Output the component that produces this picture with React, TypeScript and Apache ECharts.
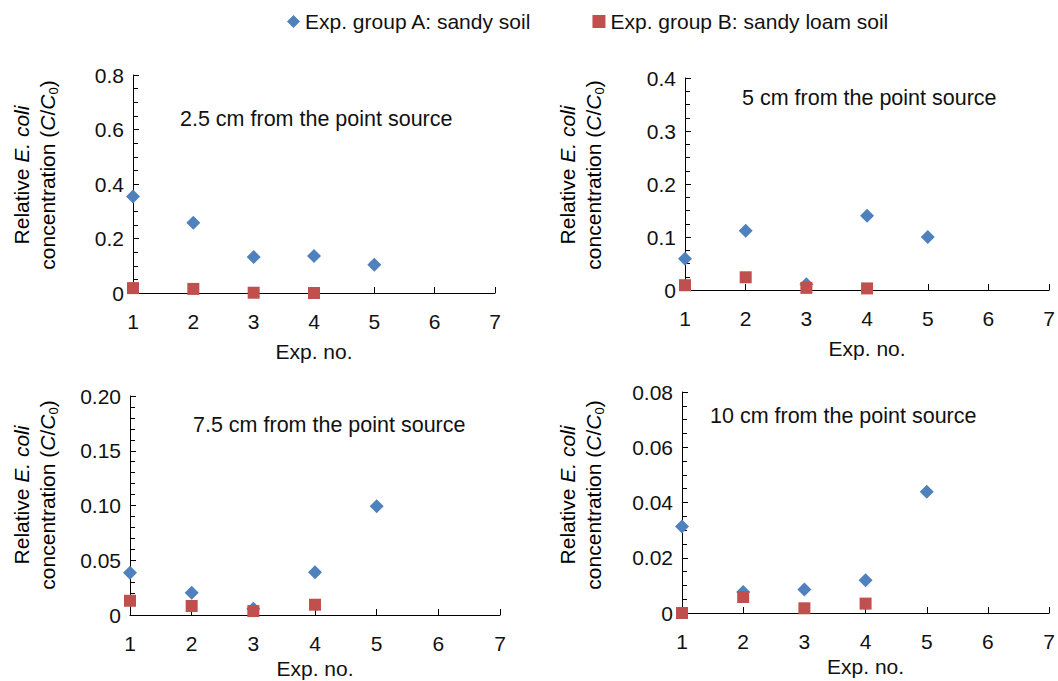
import React, { useEffect, useRef } from "react";
import * as echarts from "echarts";

const expNo = [1, 2, 3, 4, 5];
const seriesNames = ["Exp. group A: sandy soil", "Exp. group B: sandy loam soil"];
const panelTitles = [
  "2.5 cm from the point source",
  "5 cm from the point source",
  "7.5 cm from the point source",
  "10 cm from the point source",
];
const groupA_25 = [0.354, 0.258, 0.132, 0.136, 0.104];
const groupB_25 = [0.018, 0.015, 0.001, 0.0];
const groupA_5 = [0.059, 0.112, 0.011, 0.14, 0.1];
const groupB_5 = [0.009, 0.024, 0.004, 0.003];
const groupA_75 = [0.0386, 0.0204, 0.0058, 0.039, 0.0994];
const groupB_75 = [0.013, 0.0082, 0.0036, 0.0094];
const groupA_10 = [0.0313, 0.0076, 0.0085, 0.0119, 0.0439];
const groupB_10 = [0.0, 0.0058, 0.0017, 0.0034];
const yMax = [0.8, 0.4, 0.2, 0.08];
const yInterval = [0.2, 0.1, 0.05, 0.02];
const yMinorSplit = [4, 4, 5, 4];
const yDecimals = [1, 1, 2, 2];

const FONT = '"Liberation Sans", Arial, Helvetica, sans-serif';
const BLUE = "#4F81BD";
const RED = "#C0504D";
const TXT = "#111";

export default function App() {
  const ref = useRef<HTMLDivElement>(null);
  useEffect(() => {
    if (!ref.current) return;
    const chart = echarts.init(ref.current, undefined, { renderer: "svg" });

    const grids = [
      { left: 133, top: 75, width: 362, height: 218 },
      { left: 685, top: 78, width: 367, height: 212 },
      { left: 130, top: 396, width: 370, height: 219 },
      { left: 682, top: 392, width: 368, height: 221 },
    ];
    const nameGaps = [48, 48, 43, 43];
    const aData = [groupA_25, groupA_5, groupA_75, groupA_10];
    const bData = [groupB_25, groupB_5, groupB_75, groupB_10];

    const xAxes = grids.map((_, i) => ({
      type: "value",
      gridIndex: i,
      min: 1,
      max: 7,
      interval: 1,
      name: "Exp. no.",
      nameLocation: "middle",
      nameGap: nameGaps[i],
      nameTextStyle: { fontFamily: FONT, fontSize: 21, color: TXT },
      axisLine: { show: true, onZero: false, lineStyle: { color: "#000", width: 1 } },
      axisTick: { show: true, inside: true, length: 6, lineStyle: { color: "#000" } },
      axisLabel: { fontFamily: FONT, fontSize: 21, color: TXT, margin: 18 },
      splitLine: { show: false },
    }));
    const yAxes = grids.map((_, i) => ({
      type: "value",
      gridIndex: i,
      min: 0,
      max: yMax[i],
      interval: yInterval[i],
      axisLine: { show: true, lineStyle: { color: "#000", width: 1 } },
      axisTick: { show: true, inside: true, length: 6, lineStyle: { color: "#000" } },
      minorTick: { show: true, splitNumber: yMinorSplit[i], length: 5, lineStyle: { color: "#000" } },
      axisLabel: {
        fontFamily: FONT,
        fontSize: 21,
        color: TXT,
        margin: 9,
        formatter: (v: number) => (Math.abs(v) < 1e-9 ? "0" : v.toFixed(yDecimals[i])),
      },
      splitLine: { show: false },
      minorSplitLine: { show: false },
    }));

    const series: any[] = [];
    grids.forEach((_, i) => {
      series.push({
        name: seriesNames[0],
        type: "scatter",
        xAxisIndex: i,
        yAxisIndex: i,
        symbol: "diamond",
        symbolSize: 14,
        itemStyle: { color: BLUE, opacity: 1 },
        data: aData[i].map((v, k) => [expNo[k], v]),
        z: 2,
      });
    });
    grids.forEach((_, i) => {
      series.push({
        name: seriesNames[1],
        type: "scatter",
        xAxisIndex: i,
        yAxisIndex: i,
        symbol: "rect",
        symbolSize: 12,
        itemStyle: { color: RED, opacity: 1 },
        data: bData[i].map((v, k) => [expNo[k], v]),
        z: 3,
      });
    });

    const rich = {
      n: { fontFamily: FONT, fontSize: 21, color: TXT, lineHeight: 26 },
      i: { fontFamily: FONT, fontSize: 21, fontStyle: "italic", color: TXT, lineHeight: 26 },
      s: { fontFamily: FONT, fontSize: 13, color: TXT, lineHeight: 26, verticalAlign: "bottom" },
    };
    const titleX = [[21, 47], [567, 593], [21, 47], [567, 593]];
    const titleY = [175, 175, 495, 495];
    const graphics: any[] = [];
    grids.forEach((_, i) => {
      graphics.push({
        type: "text",
        x: titleX[i][0],
        y: titleY[i],
        rotation: Math.PI / 2,
        style: {
          text: "{n|Relative }{i|E. coli}",
          rich,
          align: "center",
          verticalAlign: "middle",
        },
      });
      graphics.push({
        type: "text",
        x: titleX[i][1],
        y: titleY[i],
        rotation: Math.PI / 2,
        style: {
          text: "{n|concentration (}{i|C}{n|/}{i|C}{s|0}{n|)}",
          rich,
          align: "center",
          verticalAlign: "middle",
        },
      });
    });
    const annPos = [[180, 119], [742, 98], [193, 425], [710, 416]];
    panelTitles.forEach((t, i) => {
      graphics.push({
        type: "text",
        x: annPos[i][0],
        y: annPos[i][1],
        style: {
          text: t,
          font: `21.5px ${FONT}`,
          fill: TXT,
          align: "left",
          verticalAlign: "middle",
        },
      });
    });

    chart.setOption({
      animation: false,
      backgroundColor: "#fff",
      legend: {
        data: [
          { name: seriesNames[0], icon: "diamond" },
          { name: seriesNames[1], icon: "rect" },
        ],
        left: 282,
        top: 6,
        itemWidth: 13,
        itemHeight: 13,
        itemGap: 61,
        textStyle: { fontFamily: FONT, fontSize: 21, color: TXT },
      },
      grid: grids,
      xAxis: xAxes,
      yAxis: yAxes,
      series,
      graphic: graphics,
    });
    return () => chart.dispose();
  }, []);
  return (
    <div
      ref={ref}
      style={{ position: "absolute", left: 0, top: 0, width: 1058, height: 681 }}
    />
  );
}
